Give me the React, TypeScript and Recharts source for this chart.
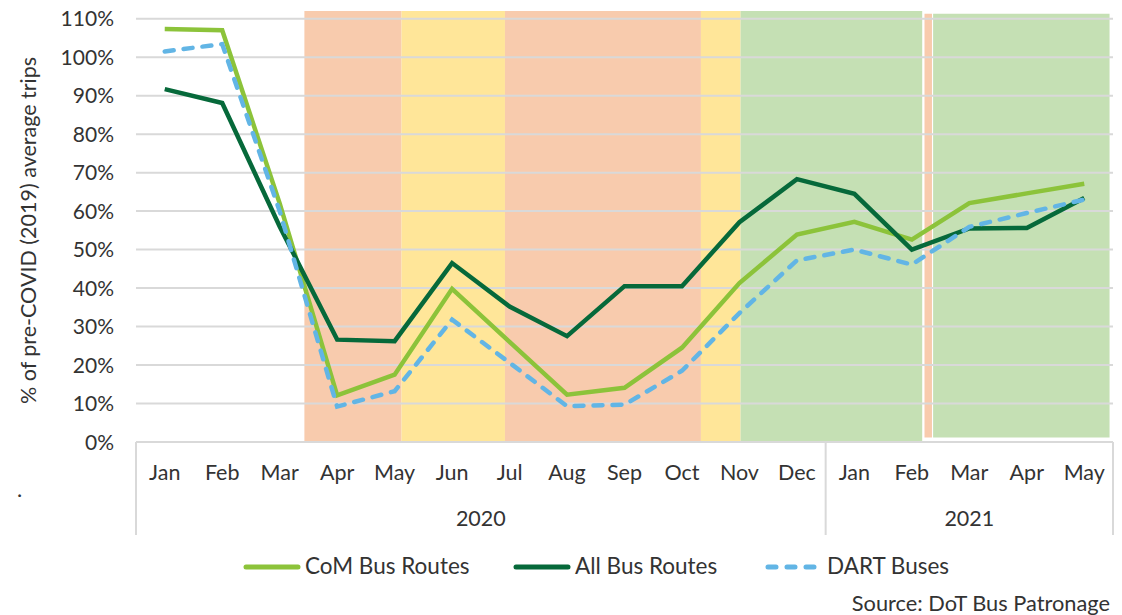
import React from "react";
import { LineChart, Line, XAxis, YAxis, ReferenceArea, ReferenceLine } from "recharts";

const MONTHS = ["Jan", "Feb", "Mar", "Apr", "May", "Jun", "Jul", "Aug", "Sep", "Oct", "Nov", "Dec", "Jan", "Feb", "Mar", "Apr", "May"];
const COM_BUS = [107.3, 107.0, 62, 12.1, 17.5, 39.8, 26, 12.3, 14.1, 24.5, 41.3, 53.9, 57.2, 52.6, 62.1, 64.6, 67.1];
const ALL_BUS = [91.7, 88.1, 56, 26.6, 26.2, 46.5, 35.2, 27.5, 40.5, 40.5, 57.1, 68.3, 64.5, 50, 55.5, 55.6, 63.4];
const DART_BUS = [101.5, 103.4, 60, 9.2, 13.2, 31.8, 20.6, 9.3, 9.7, 18.5, 33.5, 47.2, 50, 46.1, 55.9, 59.5, 63];
const Y_TICKS = [0, 10, 20, 30, 40, 50, 60, 70, 80, 90, 100, 110];
const YEARS = [
  { label: "2020", from: 0, to: 12 },
  { label: "2021", from: 12, to: 17 },
];
// restriction periods behind the lines (in month units from start of Jan 2020)
const PHASES = [
  { from: 2.93, to: 4.62, level: "lockdown", lo: 0, hi: 112 },
  { from: 4.62, to: 6.42, level: "easing", lo: 0, hi: 112 },
  { from: 6.42, to: 9.83, level: "lockdown", lo: 0, hi: 112 },
  { from: 9.83, to: 10.52, level: "easing", lo: 0, hi: 112 },
  { from: 10.52, to: 13.68, level: "open", lo: 0, hi: 112 },
  { from: 13.72, to: 13.85, level: "lockdown", lo: 1.2, hi: 111.3 },
  { from: 13.87, to: 16.94, level: "open", lo: 1.2, hi: 111.3 },
];

const FILL: Record<string, string> = {
  lockdown: "#F8CBAD",
  easing: "#FFE699",
  open: "#C5E0B4",
};

const FONT = "Lato, 'Open Sans', sans-serif";
const INK = "#333333";
const GRID = "#D9D9D9";
const PLOT_BOTTOM = 442;
const FRAME_BOTTOM = 535;

const rows = MONTHS.map((m, i) => ({
  x: i + 0.5,
  month: m,
  com: COM_BUS[i],
  all: ALL_BUS[i],
  dart: DART_BUS[i],
}));

const MonthTick = (props: any) => {
  const { x, payload } = props;
  const i = Math.floor(payload.value);
  return (
    <text x={x} y={480} textAnchor="middle" fontFamily={FONT} fontSize={21.5} fill={INK}>
      {MONTHS[i]}
    </text>
  );
};

const YearTick = (props: any) => {
  const { x, payload } = props;
  const yr = YEARS.find((y) => (y.from + y.to) / 2 === payload.value);
  if (yr) {
    return (
      <text x={x} y={526} textAnchor="middle" fontFamily={FONT} fontSize={21.5} fill={INK}>
        {yr.label}
      </text>
    );
  }
  return <line x1={x} x2={x} y1={PLOT_BOTTOM} y2={FRAME_BOTTOM} stroke={GRID} strokeWidth={2} />;
};

const PctTick = (props: any) => {
  const { y, payload } = props;
  return (
    <text x={114} y={y} dy="0.36em" textAnchor="end" fontFamily={FONT} fontSize={21} fill={INK}>
      {payload.value}%
    </text>
  );
};

const yearTicks = [
  ...new Set(YEARS.flatMap((y) => [y.from, y.to, (y.from + y.to) / 2])),
].sort((a, b) => a - b);

const LEGEND = [
  { name: "CoM Bus Routes", color: "#8CC33A", dash: undefined as string | undefined, x: 243 },
  { name: "All Bus Routes", color: "#06693A", dash: undefined, x: 513 },
  { name: "DART Buses", color: "#62B5E5", dash: "8 11", x: 765 },
];

export default function App() {
  return (
    <div style={{ position: "absolute", left: 0, top: 0, width: 1122, height: 615, background: "#fff" }}>
      <LineChart width={1122} height={615} data={rows} margin={{ top: 11, right: 9, bottom: 78, left: 0 }}>
        <XAxis
          xAxisId="m"
          type="number"
          dataKey="x"
          domain={[0, 17]}
          ticks={rows.map((r) => r.x)}
          interval={0}
          axisLine={false}
          tickLine={false}
          height={55}
          tick={<MonthTick />}
        />
        <XAxis
          xAxisId="yr"
          type="number"
          dataKey="x"
          domain={[0, 17]}
          ticks={yearTicks}
          interval={0}
          axisLine={false}
          tickLine={false}
          height={40}
          tick={<YearTick />}
        />
        <YAxis
          domain={[0, 112]}
          ticks={Y_TICKS}
          interval={0}
          width={136}
          axisLine={false}
          tickLine={false}
          tick={<PctTick />}
          label={{
            value: "% of pre-COVID (2019) average trips",
            angle: -90,
            position: "insideLeft",
            dx: 23,
            dy: 4,
            fill: INK,
            fontFamily: FONT,
            fontSize: 21.5,
            style: { textAnchor: "middle" },
          }}
        />
        {PHASES.map((p, i) => (
          <ReferenceArea
            key={"p" + i}
            xAxisId="m"
            x1={p.from}
            x2={p.to}
            y1={p.lo}
            y2={p.hi}
            fill={FILL[p.level]}
            fillOpacity={1}
            stroke="none"
          />
        ))}
        {Y_TICKS.map((t) => (
          <ReferenceLine key={"g" + t} xAxisId="m" y={t} stroke={GRID} strokeWidth={2} />
        ))}
        <Line xAxisId="m" dataKey="com" stroke="#8CC33A" strokeWidth={4.5} dot={false} isAnimationActive={false} />
        <Line xAxisId="m" dataKey="all" stroke="#06693A" strokeWidth={4.5} dot={false} isAnimationActive={false} />
        <Line
          xAxisId="m"
          dataKey="dart"
          stroke="#62B5E5"
          strokeWidth={4.5}
          strokeDasharray="9 10"
          strokeLinecap="round"
          dot={false}
          isAnimationActive={false}
        />
      </LineChart>
      <svg
        width={1122}
        height={615}
        style={{ position: "absolute", left: 0, top: 0, pointerEvents: "none" }}
      >
        {LEGEND.map((l) => (
          <g key={l.name}>
            <line
              x1={l.x + 3}
              x2={l.x + 55}
              y1={567}
              y2={567}
              stroke={l.color}
              strokeWidth={5}
              strokeLinecap="round"
              strokeDasharray={l.dash}
            />
            <text x={l.x + 62} y={574} fontFamily={FONT} fontSize={22.5} fill={INK}>
              {l.name}
            </text>
          </g>
        ))}
        <text x={1110} y={611} textAnchor="end" fontFamily={FONT} fontSize={21.8} fill={INK}>
          Source: DoT Bus Patronage
        </text>
        <text x={17} y={497} fontFamily={FONT} fontSize={22} fill={INK}>
          .
        </text>
      </svg>
    </div>
  );
}
